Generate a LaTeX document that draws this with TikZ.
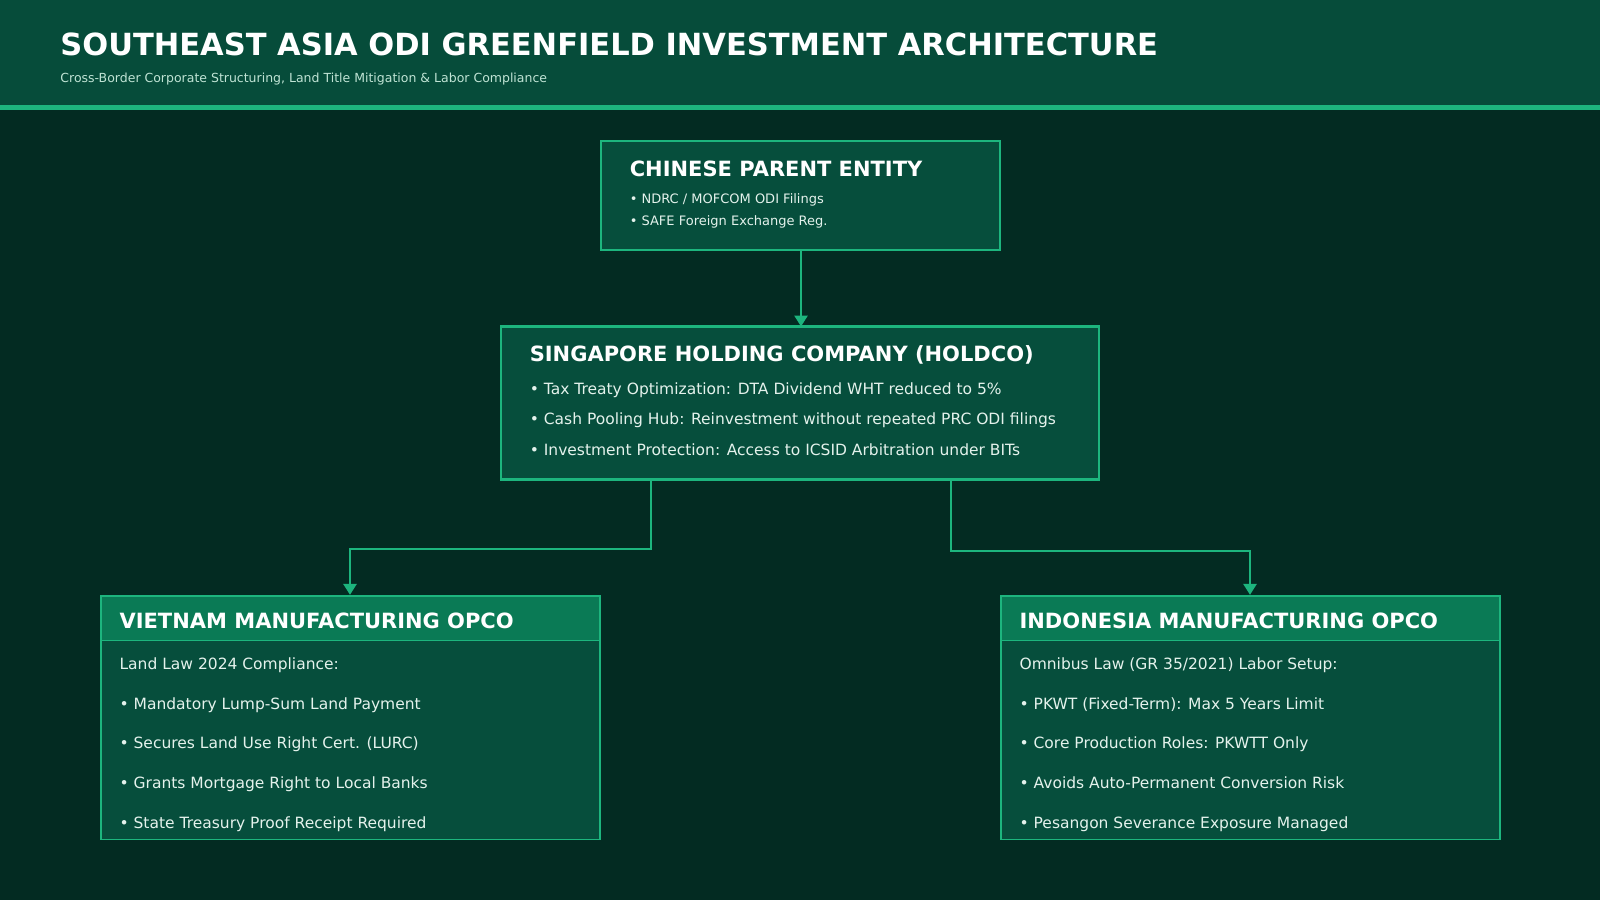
\documentclass[tikz,border=0pt]{standalone}
\usepackage{fontspec}
\setmainfont{DejaVu Sans}
\usetikzlibrary{arrows.meta}
\definecolor{bg}{HTML}{032B22}
\definecolor{hdr}{HTML}{064C3A}
\definecolor{box}{HTML}{064E3C}
\definecolor{bord}{HTML}{1DB57E}
\definecolor{strip}{HTML}{0A7A55}
\definecolor{txt}{HTML}{E4F2EC}
\definecolor{sub}{HTML}{BFE3D4}
\tikzset{
 bx/.style={draw=bord,line width=2.2pt,fill=box},
 bx2/.style={draw=bord,line width=1.3pt,fill=box},
 conn/.style={draw=bord,line width=2.6pt},
 arr/.style={conn,-{Triangle[width=13pt,length=11pt]}},
 t/.style={anchor=base west,inner sep=0,text=white,font=\bfseries\fontsize{21}{21}\selectfont},
 b/.style={anchor=base west,inner sep=0,text=txt,font=\fontsize{15.5}{16}\selectfont},
 bs/.style={anchor=base west,inner sep=0,text=txt,font=\fontsize{13}{14}\selectfont},
}
\begin{document}
\begin{tikzpicture}[x=1.0204pt,y=-1.0204pt]
\useasboundingbox (0,0) rectangle (1568,882);
\fill[bg] (0,0) rectangle (1568,882);
\fill[hdr] (0,0) rectangle (1568,104);
\fill[bord] (0,103) rectangle (1568,108);
\node[anchor=base west,inner sep=0,text=white,font=\bfseries\fontsize{30.5}{31}\selectfont] (title) at (59,54) {SOUTHEAST ASIA ODI GREENFIELD INVESTMENT ARCHITECTURE};
\node[anchor=base west,inner sep=0,text=sub,font=\fontsize{12.5}{13}\selectfont] (subt) at (59,81) {Cross-Border Corporate Structuring, Land Title Mitigation \& Labor Compliance};
% parent
\draw[bx] (589,138) rectangle (980,245);
\coordinate (pb) at (785,245);
\node[t] (pt) at (617,173) {CHINESE PARENT ENTITY};
\node[bs] (p1) at (617,199) {• NDRC / MOFCOM ODI Filings};
\node[bs] (p2) at (617,221) {• SAFE Foreign Exchange Reg.};
% holdco
\draw[bx] (491,320) rectangle (1077,470);
\coordinate (ht) at (785,320);
\node[t] (hh) at (519,354) {SINGAPORE HOLDING COMPANY (HOLDCO)};
\node[b] (h1) at (519,387) {• Tax Treaty Optimization: DTA Dividend WHT reduced to 5\%};
\node[b] (h2) at (519,416) {• Cash Pooling Hub: Reinvestment without repeated PRC ODI filings};
\node[b] (h3) at (519,446) {• Investment Protection: Access to ICSID Arbitration under BITs};
\draw[arr] (pb) -- (ht);
% vietnam
\draw[bx2] (99,584) rectangle (588,823);
\fill[strip] (99,584) rectangle (588,628);
\draw[bord,line width=1.3pt] (99,584) rectangle (588,628);
\node[t] (vt) at (117,616) {VIETNAM MANUFACTURING OPCO};
\node[b] (v0) at (117,656) {Land Law 2024 Compliance:};
\node[b] (v1) at (117,695) {• Mandatory Lump-Sum Land Payment};
\node[b] (v2) at (117,734) {• Secures Land Use Right Cert. (LURC)};
\node[b] (v3) at (117,773) {• Grants Mortgage Right to Local Banks};
\node[b] (v4) at (117,812) {• State Treasury Proof Receipt Required};
% indonesia
\draw[bx2] (981,584) rectangle (1470,823);
\fill[strip] (981,584) rectangle (1470,628);
\draw[bord,line width=1.3pt] (981,584) rectangle (1470,628);
\node[t] (it) at (999,616) {INDONESIA MANUFACTURING OPCO};
\node[b] (i0) at (999,656) {Omnibus Law (GR 35/2021) Labor Setup:};
\node[b] (i1) at (999,695) {• PKWT (Fixed-Term): Max 5 Years Limit};
\node[b] (i2) at (999,734) {• Core Production Roles: PKWTT Only};
\node[b] (i3) at (999,773) {• Avoids Auto-Permanent Conversion Risk};
\node[b] (i4) at (999,812) {• Pesangon Severance Exposure Managed};
% connectors
\coordinate (hl) at (638,470); \coordinate (vtop) at (343,583);
\coordinate (hr) at (932,470); \coordinate (itop) at (1225,583);
\draw[arr] (hl) -- (638,538) -- (343,538) -- (vtop);
\draw[arr] (hr) -- (932,540) -- (1225,540) -- (itop);
\end{tikzpicture}
\end{document}
